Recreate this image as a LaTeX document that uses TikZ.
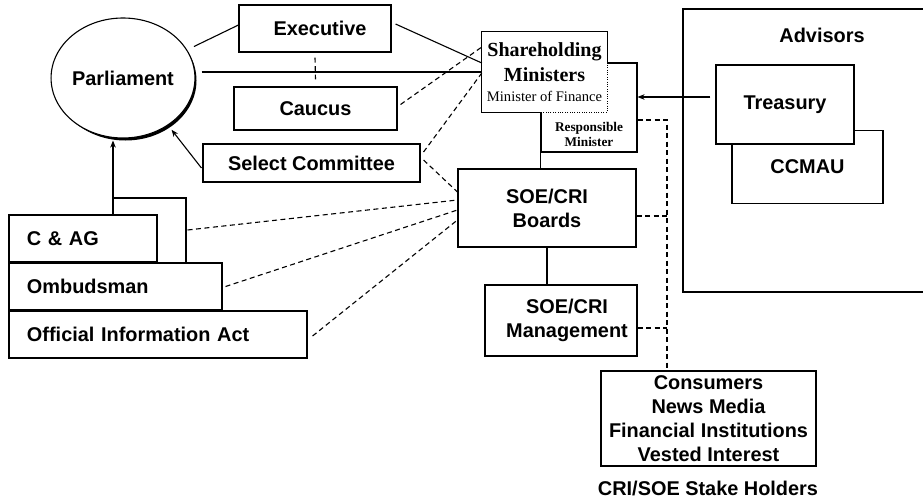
\documentclass[tikz,border=0pt]{standalone}
\usepackage{fontspec}
\setmainfont{Liberation Sans}
\newfontfamily\timesfam{Liberation Serif}
\usetikzlibrary{shapes.geometric,arrows.meta,calc}
\newcommand{\lblfont}{\fontsize{19.9}{24}\selectfont\bfseries}
\newcommand{\shfont}{\timesfam\fontsize{20}{25}\selectfont\bfseries}
\newcommand{\mofont}{\timesfam\fontsize{14.6}{20}\selectfont\mdseries}
\newcommand{\rmfont}{\timesfam\fontsize{13.3}{15}\selectfont\bfseries}
\begin{document}
\begin{tikzpicture}[x=1pt,y=-1pt,
  lw/.style={line width=1.1pt},
  box/.style={draw, lw, fill=white, inner sep=0pt, align=center, font=\lblfont},
  lbox/.style={box, align=left, inner xsep=18pt},
  dsh/.style={lw, dash pattern=on 5pt off 3.5pt},
  con/.style={lw},
  arr/.style={lw, -{Stealth[length=7pt,width=5.5pt]}},
]
\useasboundingbox (0,0) rectangle (923,501);
\clip (0,0) rectangle (923,501);
\fill[white] (0,0) rectangle (923,501);

% Advisors group
\node[box, minimum width=280pt, minimum height=283pt] (adv) at (823,150.5) {};
\node[font=\lblfont] (advt) at (822,35) {Advisors};
\node[box, minimum width=151pt, minimum height=73pt] (ccmau) at (807.5,167) {CCMAU};
\node[box, minimum width=138pt, minimum height=79pt] (tre) at (785,104.5) {Treasury};

% Ministers
\node[box, minimum width=96pt, minimum height=89pt] (resp) at (589,107.5) {};
\node[font=\rmfont, align=center, inner sep=0pt] (respt) at (589,134.5) {Responsible\\Minister};
\node[fill=white, inner sep=0pt, minimum width=125pt, minimum height=80pt, align=center, font=\shfont] (sh) at (544.5,72)
  {Shareholding\\Ministers\\[-5pt]{\mofont Minister of Finance}};
\draw[lw] (resp.west |- sh.south) -- (sh.south west) -- (sh.north west) -- (sh.north east) -- (sh.east |- resp.north);
\draw[line width=0.9pt, dash pattern=on 1pt off 1.4pt] (sh.east |- resp.north) -- (sh.south east) -- (resp.west |- sh.south);

% Parliament
\fill (125.5,80.5) ellipse [x radius=71pt, y radius=60pt];
\node[ellipse, draw, lw, fill=white, minimum width=142pt, minimum height=120pt, inner sep=0pt, font=\lblfont] (parl) at (123,78) {Parliament};

% Centre boxes
\node[box, minimum width=152pt, minimum height=47pt] (exec) at (315,28.5) {\hspace*{10pt}Executive};
\node[box, minimum width=163pt, minimum height=43pt] (caucus) at (315.5,108.5) {Caucus};
\node[box, minimum width=217pt, minimum height=38pt] (sc) at (311.5,163) {Select Committee};
\node[box, minimum width=178pt, minimum height=78pt] (boards) at (547,208) {SOE/CRI\\Boards};
\node[box, minimum width=152pt, minimum height=71pt] (mgmt) at (561,320.5) {\hspace*{12pt}SOE/CRI\\\hspace*{12pt}Management};
\node[box, minimum width=215pt, minimum height=95pt] (stake) at (708.5,418.5) {Consumers\\News Media\\Financial Institutions\\Vested Interest};
\node[font=\lblfont] (stakel) at (708,488) {CRI/SOE Stake Holders};

% Left boxes
\node[lbox, text width=112pt, minimum height=47pt] (cag) at (83,238.5) {C \& AG};
\node[lbox, text width=177pt, minimum height=47pt] (omb) at (115.5,286.5) {Ombudsman};
\node[lbox, text width=262pt, minimum height=47pt] (oia) at (158,334.5) {Official Information Act};

% Solid connectors
\draw[con] ([shift={(7pt,3pt)}]parl.24) -- ([yshift=3.5pt]exec.west);
\draw[con] ([xshift=6pt]sh.west -| parl.east) -- (sh.west);
\draw[con] ([shift={(4pt,4.5pt)}]exec.east) -- ([yshift=9pt]sh.west);
\draw[arr] ([shift={(-1pt,-5pt)}]sc.west) -- ([shift={(4pt,-4pt)}]parl.-47);
\coordinate (j) at (113,198);
\draw[arr] ([xshift=30pt]cag.north) -- ([xshift=-10pt,yshift=-2pt]parl.south);
\draw[con] ([xshift=70.5pt]omb.north) |- (j);
\draw[arr] ([shift={(-5pt,7.5pt)}]tre.west) -- ([yshift=10.5pt]resp.east);
\draw[con] (resp.south west) -- (resp.south west |- boards.north);
\draw[con] (boards.south) -- (boards.south |- mgmt.north);

% Dashed connectors
\draw[dsh] ([yshift=-5pt]exec.south) -- ([yshift=7pt]caucus.north);
\draw[dsh] ([shift={(3pt,4pt)}]caucus.east) -- ([yshift=25pt]sh.west);
\draw[dsh] ([shift={(3pt,11pt)}]sc.east) -- ([yshift=-1pt]sh.west);
\draw[dsh] ([shift={(3pt,3pt)}]sc.east) -- ([yshift=16pt]boards.west);
\draw[dsh] ([shift={(30pt,8.5pt)}]cag.east) -- ([yshift=8pt]boards.west);
\draw[dsh] ([xshift=3pt]omb.east) -- ([yshift=-2pt]boards.west);
\draw[dsh] ([shift={(5pt,-1.5pt)}]oia.east) -- ([yshift=-12pt]boards.west);
\coordinate (bus) at (667,120);
\draw[dsh] ([yshift=-12.5pt]resp.east) -| (bus |- stake.north);
\draw[dsh] ([yshift=-8pt]boards.east) -- ([yshift=-8pt]boards.east -| bus);
\draw[dsh] ([yshift=-7.5pt]mgmt.east) -- ([yshift=-7.5pt]mgmt.east -| bus);
\end{tikzpicture}
\end{document}
